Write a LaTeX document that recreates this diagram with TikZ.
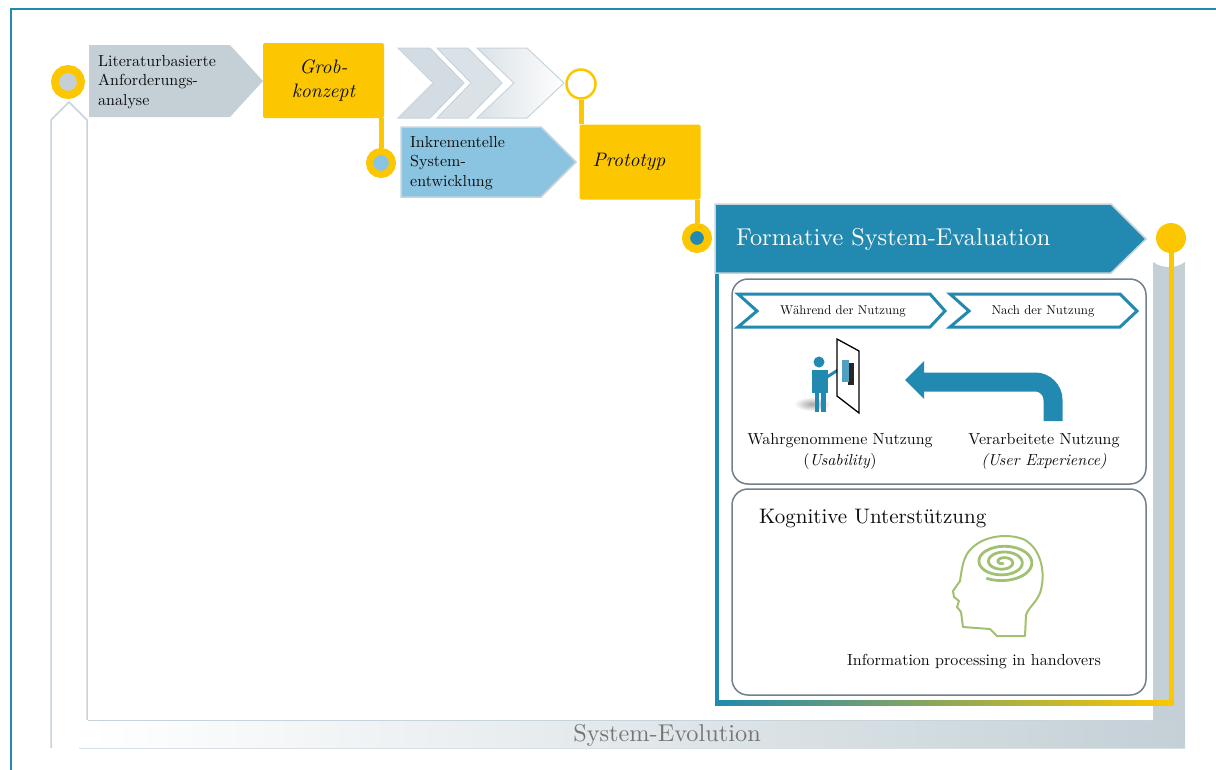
\documentclass[tikz,border=0pt]{standalone}
\usepackage{fontspec}
\setmainfont{lmroman10-regular}[Extension=.otf, ItalicFont=lmroman10-italic, BoldFont=lmroman10-bold]
\usetikzlibrary{calc,shadings}
\definecolor{fyellow}{RGB}{252,199,0}
\definecolor{fblue}{RGB}{34,137,176}
\definecolor{flight}{RGB}{138,196,224}
\definecolor{fgray}{RGB}{196,208,214}
\definecolor{fedge}{RGB}{200,212,220}
\definecolor{fbox}{RGB}{113,128,138}
\definecolor{fgreen}{RGB}{160,194,112}
\definecolor{ftext}{RGB}{12,12,12}
\definecolor{fchevA}{RGB}{210,220,226}
\definecolor{fchevB}{RGB}{219,226,231}
\definecolor{fevo}{RGB}{118,118,118}
\definecolor{fmid}{RGB}{140,168,100}
\newcommand{\fs}[2]{\fontsize{#1}{#2}\selectfont}
\begin{document}
\begin{tikzpicture}[x=1pt,y=-1pt,
  yline/.style={draw=fyellow, line width=5},
  ybox/.style={fill=fyellow, rounded corners=2, inner sep=0pt, align=center, text=ftext},
  ring/.style={circle, draw=fyellow, inner sep=0pt},
  txt/.style={inner sep=0pt, text=ftext},
  tag/.style={draw=fblue, line width=3, fill=white, line join=miter},
  innerbox/.style={draw=fbox, line width=1.5, rounded corners=16, fill=white}]
\useasboundingbox (0,0) rectangle (1216,769);

% outer frame
\draw[fblue, line width=1.6] (11,775) -- (11,9) -- (1222,9);

% system evolution: upward arrow outline and bottom bar
\draw[fedge, line width=1.5] (51,748) -- (51,120) -- (69,102) -- (87,120) -- (87,720);
\fill[fgray] (1153,250) rectangle (1185,748);
\fill[white] (1169,250) ellipse [x radius=22, y radius=17];
\shade[left color=white, right color=fgray] (88,720) rectangle (1185,748);
\draw[fedge, line width=1] (88,720) -- (1153,720);
\draw[fedge!70, line width=1] (79,748.5) -- (1185,748.5);
\node[txt, text=fevo, font=\fs{24.3}{26}] (evo) at (667,735) {System-Evolution};

% requirements analysis
\fill[fgray] (89,45) -- (230,45) -- (263,81) -- (230,117) -- (89,117) -- cycle;
\node[txt, anchor=west, align=left, font=\fs{16}{19.5}] (lit) at (98,82)
  {Literaturbasierte\\Anforderungs-\\analyse};
\node[ring, line width=8, minimum size=26, fill=fgray] (c1) at (68,82) {};

% rough concept
\node[ybox, minimum width=121, minimum height=75, font=\fs{19.5}{24}\itshape] (grob) at (323.5,80.5) {Grob-\\konzept};
\node[ring, line width=7, minimum size=23, fill=flight] (c2) at (381,163) {};
\draw[yline] (c2.center |- grob.south) -- (c2);

% iteration chevrons
\filldraw[fill=fchevA, draw=fedge, line width=1] (398,48) -- (430,48) -- (464,83) -- (430,118) -- (398,118) -- (433,83) -- cycle;
\filldraw[fill=fchevB, draw=fedge, line width=1] (437,48) -- (468,48) -- (502,83) -- (468,118) -- (437,118) -- (471,83) -- cycle;
\shade[left color=fchevB, right color=white!96!fchevB] (477,48) -- (527,48) -- (564,83) -- (527,118) -- (477,118) -- (514,83) -- cycle;
\draw[fedge, line width=1] (477,48) -- (527,48) -- (564,83) -- (527,118) -- (477,118) -- (514,83) -- cycle;
\node[ring, line width=2.5, minimum size=29, fill=white] (c3) at (581,84) {};

% incremental development
\filldraw[fill=flight, draw=fedge, line width=1.5] (401,127) -- (541,127) -- (576,162) -- (541,197) -- (401,197) -- cycle;
\node[txt, anchor=west, align=left, font=\fs{16}{19.5}] (inkr) at (410,163)
  {Inkrementelle\\System-\\entwicklung};

% prototype
\node[ybox, minimum width=121, minimum height=75] (proto) at (640,162) {};
\node[txt, font=\fs{19.5}{24}\itshape] (prototxt) at (629,162) {Prototyp};
\draw[yline] (c3) -- (c3 |- proto.north);
\node[ring, line width=8, minimum size=22, fill=fblue] (c4) at (697,238) {};
\draw[yline] (c4 |- proto.south) -- (c4);

% formative evaluation frame
\shade[left color=fblue, middle color=fmid, right color=fyellow] (715,700.5) rectangle (1173.5,705.5);
\draw[fblue, line width=4] (717,270) -- (717,705.5);
\node[circle, fill=fyellow, inner sep=0pt, minimum size=30] (c5) at (1171,238) {};
\draw[fyellow, line width=5] (c5.center) -- (1171,705.5);
\filldraw[fill=fblue, draw=fedge, line width=1.5] (715,204) -- (1111,204) -- (1146,239) -- (1111,273) -- (715,273) -- cycle;
\node[txt, anchor=west, text=white, font=\fs{24.3}{26}] (form) at (736,239) {Formative System-Evaluation};

% usage box
\draw[innerbox] (732,279) rectangle (1146,484);
\draw[tag] (738,294) -- (930,294) -- (945,311) -- (930,327) -- (738,327) -- (757,311) -- cycle;
\draw[tag] (950,294) -- (1120,294) -- (1137,311) -- (1120,327) -- (950,327) -- (969,311) -- cycle;
\node[txt, font=\fs{12.8}{15}] (waehrend) at (843,311) {Während der Nutzung};
\node[txt, font=\fs{12.8}{15}] (nach) at (1043,311) {Nach der Nutzung};

% user at a screen
\shade[inner color=black!35, outer color=white] (812,404) ellipse [x radius=18, y radius=7];
\fill[fblue] (819,362) circle [radius=5.5];
\fill[fblue] (812,370) rectangle (828,393);
\fill[fblue] (814.5,393) rectangle (819,412);
\fill[fblue] (821,393) rectangle (825.5,412);
\draw[fblue, line width=3, line cap=round] (827,377) -- (838,370);
\filldraw[fill=white, draw=black, line width=1.3] (837,339) -- (859,351) -- (859,413) -- (837,396) -- cycle;
\fill[black!85] (848,363) rectangle (854,385);
\fill[fblue!80!white] (842,360) rectangle (849,382);

% processed-use arrow
\draw[fblue, line width=19, rounded corners=18] (1053,421) |- (922,382);
\fill[fblue] (905,380) -- (924,361) -- (924,399) -- cycle;
\node[txt, align=center, font=\fs{16}{21}] (wahr) at (840,451) {Wahrgenommene Nutzung\\(\textit{Usability})};
\node[txt, align=center, font=\fs{16}{21}] (verarb) at (1044,451) {Verarbeitete Nutzung\\\textit{(User Experience)}};

% cognitive support box
\draw[innerbox] (732,489) rectangle (1146,695);
\node[txt, anchor=west, font=\fs{21}{24}] (kogn) at (759,518) {Kognitive Unterstützung};
\node[txt, font=\fs{16}{19}] (info) at (974,661) {Information processing in handovers};

% head with spiral
\draw[fgreen, line width=2, line join=round]
  (1025,636) -- (997,636) -- (990,629) -- (963,627) -- (961,612) -- (957,607) -- (959,601)
  -- (954,597) -- (953,591) -- (960,581)
  .. controls (962,568) and (963,556) .. (972,548)
  .. controls (985,535) and (1010,533) .. (1025,540)
  .. controls (1042,550) and (1046,575) .. (1040,593)
  .. controls (1036,603) and (1028,608) .. (1026,615) -- cycle;
\draw[fgreen, line width=2.8, line cap=round]
  plot[domain=90:1200, samples=240, smooth] ({1003+32*(\x/1200)*cos(\x)}, {562+19*(\x/1200)*sin(\x)});
\end{tikzpicture}
\end{document}
